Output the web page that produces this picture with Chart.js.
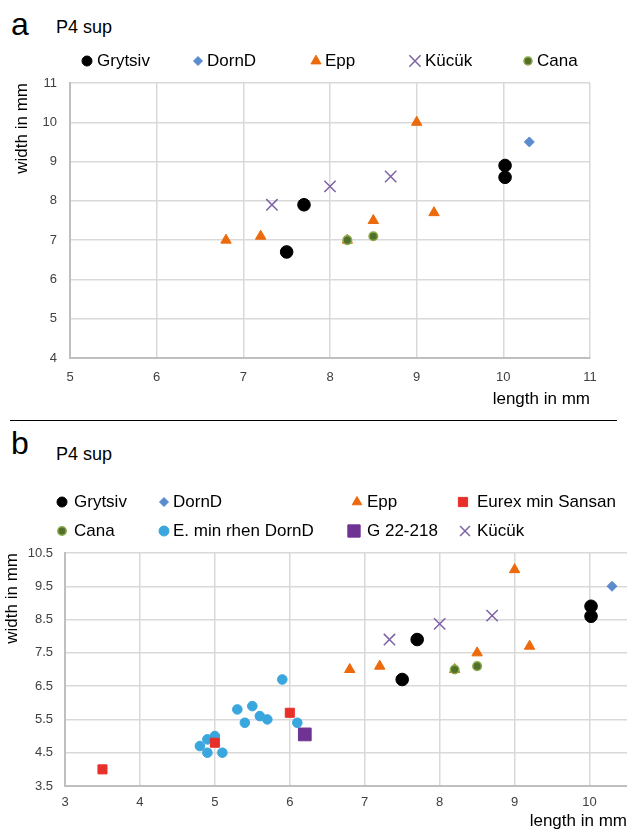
<!DOCTYPE html>
<html>
<head>
<meta charset="utf-8">
<script src="https://cdn.jsdelivr.net/npm/chart.js@4.4.1/dist/chart.umd.min.js"></script>
<style>
  body { margin: 0; background: #fff; font-family: "Liberation Sans", Arial, sans-serif; }
  #page { position: relative; width: 627px; height: 832px; overflow: hidden; }
  .abs { position: absolute; white-space: nowrap; color: #000; }
  .panel { font-size: 32px; line-height: 1; }
  .sub { font-size: 18px; line-height: 1; }
  .leg { font-size: 17px; line-height: 17px; }
  canvas.mk { position: absolute; }
  #rule { position: absolute; left: 10px; top: 420px; width: 607px; border-top: 1.5px solid #000; }
</style>
</head>
<body>
<div id="page">
  <div class="abs panel" style="left:11px;top:8px">a</div>
  <div class="abs sub" style="left:56px;top:18px">P4 sup</div>
  <div style="position:absolute;left:0;top:0;width:627px;height:420px"><canvas id="chartA"></canvas></div>
  <div id="rule"></div>
  <div class="abs panel" style="left:11px;top:427px">b</div>
  <div class="abs sub" style="left:56px;top:445px">P4 sup</div>
  <div style="position:absolute;left:0;top:421px;width:637px;height:411px"><canvas id="chartB"></canvas></div>
  <div id="legends"></div>
</div>
<script>
// measurements, length / width in mm
const grytsivLen = [7.5, 7.7, 10.02, 10.02];
const grytsivWid = [6.7, 7.9, 8.9, 8.6];
const dornDLen = [10.3];
const dornDWid = [9.5];
const eppLen = [6.8, 7.2, 8.2, 8.5, 9.0, 9.2];
const eppWid = [7.0, 7.1, 7.0, 7.5, 10.0, 7.7];
const kucukLen = [7.33, 8.0, 8.7];
const kucukWid = [7.9, 8.37, 8.62];
const canaLen = [8.2, 8.5];
const canaWid = [7.0, 7.1];
const eMinLen = [5.9, 5.3, 5.5, 5.4, 5.6, 5.7, 6.1, 5.0, 4.9, 4.8, 4.9, 5.1];
const eMinWid = [6.7, 5.8, 5.9, 5.4, 5.6, 5.5, 5.4, 5.0, 4.9, 4.7, 4.5, 4.5];
const eurexLen = [3.5, 5.0, 6.0];
const eurexWid = [4.0, 4.8, 5.7];
const g22Len = [6.2];
const g22Wid = [5.05];

const xTicksA = [5, 6, 7, 8, 9, 10, 11];
const yTicksA = [4, 5, 6, 7, 8, 9, 10, 11];
const xTicksB = [3, 4, 5, 6, 7, 8, 9, 10];
const yTicksB = [3.5, 4.5, 5.5, 6.5, 7.5, 8.5, 9.5, 10.5];

const FONT = '"Liberation Sans", Arial, sans-serif';
Chart.defaults.font.family = FONT;

const styles = {
  grytsiv: { label: 'Grytsiv', shape: 'circle', bg: '#000000', bd: '#000000', bw: 1, r: 6.3 },
  dornD:   { label: 'DornD', shape: 'rectRot', bg: '#5b8bcf', bd: '#5b8bcf', bw: 1, r: 5 },
  epp:     { label: 'Epp', shape: 'triangle', bg: '#ec6a0c', bd: '#ec6a0c', bw: 1, r: 6 },
  kucuk:   { label: 'Kücük', shape: 'crossRot', bg: '#7e62a6', bd: '#7e62a6', bw: 1.5, r: 8 },
  cana:    { label: 'Cana', shape: 'circle', bg: '#52702a', bd: '#8aab4c', bw: 1.5, r: 4.3 },
  eMin:    { label: 'E. min rhen DornD', shape: 'circle', bg: '#3aa6de', bd: '#3aa6de', bw: 1, r: 4.8 },
  eurex:   { label: 'Eurex min Sansan', shape: 'rect', bg: '#e8302a', bd: '#e8302a', bw: 1, r: 6.4 },
  g22:     { label: 'G 22-218', shape: 'rect', bg: '#6f3393', bd: '#6f3393', bw: 1, r: 9 }
};

function pts(xs, ys) {
  return xs.map((x, i) => ({ x: x, y: ys[i] }));
}

function ds(key, xs, ys, order) {
  const s = styles[key];
  return {
    label: s.label,
    data: pts(xs, ys),
    pointStyle: s.shape,
    pointRadius: s.r,
    pointHoverRadius: s.r,
    pointBackgroundColor: s.bg,
    pointBorderColor: s.bd,
    pointBorderWidth: s.bw,
    backgroundColor: s.bg,
    borderColor: s.bd,
    order: order
  };
}

function axis(o) {
  return {
    type: 'linear',
    min: o.min,
    max: o.max,
    afterBuildTicks: s => { s.ticks = o.ticks.map(v => ({ value: v })); },
    afterFit: s => { if (o.height) s.height = o.height; if (o.width) s.width = o.width; },
    grid: { color: '#d9d9d9', lineWidth: 1.5, drawTicks: false },
    border: { color: '#bfbfbf', width: 2 },
    ticks: {
      padding: o.pad,
      color: '#404040',
      font: { size: 13 },
      callback: o.fmt
    },
    title: {
      display: true,
      text: o.title,
      align: 'end',
      color: '#000',
      font: { size: 17 },
      padding: o.titlePad
    }
  };
}

const baseOptions = {
  responsive: true,
  maintainAspectRatio: false,
  animation: false,
  plugins: { legend: { display: false }, tooltip: { enabled: false } }
};

const chartA = new Chart(document.getElementById('chartA'), {
  type: 'scatter',
  data: {
    datasets: [
      ds('grytsiv', grytsivLen, grytsivWid, 1),
      ds('dornD', dornDLen, dornDWid, 1),
      ds('epp', eppLen, eppWid, 1),
      ds('kucuk', kucukLen, kucukWid, 1),
      ds('cana', canaLen, canaWid, 0)
    ]
  },
  options: Object.assign({}, baseOptions, {
    layout: { padding: { top: 83, right: 37, bottom: 0, left: 0 } },
    scales: {
      x: axis({ min: 5, max: 11, ticks: xTicksA, height: 62, pad: 12, fmt: v => v,
                title: 'length in mm', titlePad: { top: 0, bottom: 10 } }),
      y: axis({ min: 4, max: 11, ticks: yTicksA, width: 70, pad: 13, fmt: v => v,
                title: 'width in mm', titlePad: { top: 12, bottom: 0 } })
    }
  })
});

const chartB = new Chart(document.getElementById('chartB'), {
  type: 'scatter',
  data: {
    datasets: [
      ds('grytsiv', grytsivLen, grytsivWid, 1),
      ds('dornD', dornDLen, dornDWid, 1),
      ds('epp', eppLen, eppWid, 1),
      ds('eurex', eurexLen, eurexWid, 0),
      ds('cana', canaLen, canaWid, 0),
      ds('eMin', eMinLen, eMinWid, 1),
      ds('g22', g22Len, g22Wid, 0),
      ds('kucuk', kucukLen, kucukWid, 1)
    ]
  },
  options: Object.assign({}, baseOptions, {
    layout: { padding: { top: 132, right: 0, bottom: 0, left: 0 } },
    scales: {
      x: axis({ min: 3, max: 10.5, ticks: xTicksB, height: 46, pad: 9, fmt: v => v,
                title: 'length in mm', titlePad: { top: 0, bottom: 0 } }),
      y: axis({ min: 3.5, max: 10.5, ticks: yTicksB, width: 65, pad: 12, fmt: v => v.toFixed(1),
                title: 'width in mm', titlePad: { top: 2, bottom: 0 } })
    }
  })
});

// legends: [style key, marker x, text x, row centre y, marker radius]
const legendA = [
  ['grytsiv', 87, 97, 60, 5],
  ['dornD', 198, 207, 60, 4.5],
  ['epp', 316, 325, 60, 5.8],
  ['kucuk', 415, 425, 60, 8],
  ['cana', 528, 537, 60, 4]
];
const legendB = [
  ['grytsiv', 62, 74, 501, 5],
  ['dornD', 164, 173, 501, 4.5],
  ['epp', 357, 367, 501, 5.5],
  ['eurex', 463, 477, 501, 6.5],
  ['cana', 62, 74, 530, 4.2],
  ['eMin', 164, 173, 530, 5],
  ['g22', 354, 367, 530, 8.7],
  ['kucuk', 465, 477, 530, 7]
];

const legendBox = document.getElementById('legends');
function addLegend(items) {
  items.forEach(([key, mx, tx, y, r]) => {
    const s = styles[key];
    const c = document.createElement('canvas');
    c.width = 24; c.height = 24; c.className = 'mk';
    c.style.left = (mx - 12) + 'px';
    c.style.top = (y + 1 - 12) + 'px';
    const ctx = c.getContext('2d');
    ctx.fillStyle = s.bg;
    ctx.strokeStyle = s.bd;
    ctx.lineWidth = s.bw;
    Chart.helpers.drawPoint(ctx, { pointStyle: s.shape, radius: r, rotation: 0, borderWidth: s.bw }, 12, 12);
    legendBox.appendChild(c);
    const t = document.createElement('div');
    t.className = 'abs leg';
    t.style.left = tx + 'px';
    t.style.top = (y - 8.5) + 'px';
    t.textContent = s.label;
    legendBox.appendChild(t);
  });
}
addLegend(legendA);
addLegend(legendB);
</script>
</body>
</html>
